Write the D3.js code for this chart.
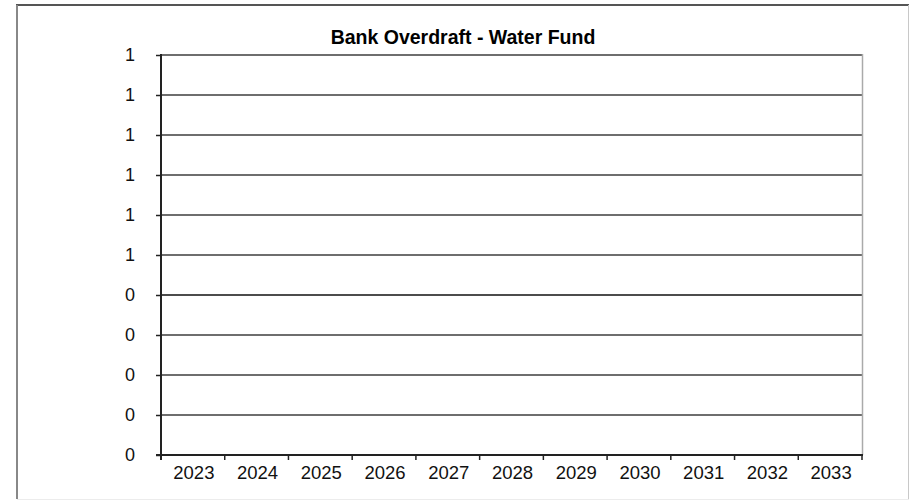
<!DOCTYPE html>
<html>
<head>
<meta charset="utf-8">
<script src="https://cdn.jsdelivr.net/npm/d3@7"></script>
<style>
  html, body { margin: 0; padding: 0; background: #fff; }
  svg { display: block; }
  text { font-family: "Liberation Sans", Arial, sans-serif; }
</style>
</head>
<body>
<svg id="chart" width="910" height="501"></svg>
<script>
// Fiscal years shown on the category axis
const years = ["2023", "2024", "2025", "2026", "2027", "2028", "2029", "2030", "2031", "2032", "2033"];
// Overdraft balance per year (no overdraft drawn in any year)
const overdraft = [0, 0, 0, 0, 0, 0, 0, 0, 0, 0, 0];
// Value axis ticks
const yTicks = [0, 0.1, 0.2, 0.3, 0.4, 0.5, 0.6, 0.7, 0.8, 0.9, 1.0];
const title = "Bank Overdraft - Water Fund";

const svg = d3.select("#chart");
const plot = { left: 161, top: 55, right: 862, bottom: 455 };

// Chart-area frame
svg.append("line").attr("x1", 16).attr("y1", 5).attr("x2", 909).attr("y2", 5)
  .attr("stroke", "#555").attr("stroke-width", 2);
svg.append("line").attr("x1", 17).attr("y1", 5).attr("x2", 17).attr("y2", 499)
  .attr("stroke", "#888").attr("stroke-width", 2);
svg.append("line").attr("x1", 908.5).attr("y1", 5).attr("x2", 908.5).attr("y2", 499)
  .attr("stroke", "#c8c8c8").attr("stroke-width", 1);
svg.append("line").attr("x1", 17).attr("y1", 499.5).attr("x2", 909).attr("y2", 499.5)
  .attr("stroke", "#ececec").attr("stroke-width", 1);

const x = d3.scaleBand().domain(years).range([plot.left, plot.right])
  .paddingInner(0.3).paddingOuter(0.15);
const xEdge = d3.scaleLinear().domain([0, years.length]).range([plot.left, plot.right]);
const y = d3.scaleLinear().domain([0, 1]).range([plot.bottom, plot.top]);

// Horizontal gridlines
svg.append("g").selectAll("line").data(yTicks.filter(d => d > 0)).join("line")
  .attr("x1", plot.left).attr("x2", plot.right)
  .attr("y1", d => y(d)).attr("y2", d => y(d))
  .attr("stroke", d => Math.abs(d - 0.4) < 1e-9 ? "#111" : "#6e6e6e")
  .attr("stroke-width", d => Math.abs(d - 0.4) < 1e-9 ? 1.4 : 1.8);

// Right edge of plot area
svg.append("line").attr("x1", plot.right + 0.5).attr("x2", plot.right + 0.5)
  .attr("y1", plot.top - 1).attr("y2", plot.bottom)
  .attr("stroke", "#aaa").attr("stroke-width", 1.5);

// Bars (zero height)
svg.append("g").selectAll("rect").data(overdraft).join("rect")
  .attr("x", (d, i) => x(years[i]))
  .attr("width", x.bandwidth())
  .attr("y", d => y(Math.max(d, 0)))
  .attr("height", d => Math.abs(y(0) - y(d)))
  .attr("fill", "#333399");

// Value axis
const yAxis = d3.axisLeft(y).tickValues(yTicks).tickSize(5).tickPadding(21)
  .tickFormat(d => d3.format(".0f")(d + 1e-9));
const gy = svg.append("g").attr("transform", `translate(${plot.left},0)`).call(yAxis);
gy.select(".domain").attr("stroke", "#222").attr("stroke-width", 2)
  .attr("d", `M0,${plot.top - 1}V${plot.bottom + 5}`);
gy.selectAll(".tick line").attr("stroke", "#222").attr("stroke-width", 1.5);
gy.selectAll(".tick text").attr("font-size", 18).attr("fill", "#111")
  .attr("dy", "0.3em")
  .attr("font-family", "Liberation Sans, Arial, sans-serif");

// Category axis
svg.append("line").attr("x1", plot.left - 5).attr("x2", plot.right + 1)
  .attr("y1", plot.bottom).attr("y2", plot.bottom)
  .attr("stroke", "#222").attr("stroke-width", 2);
svg.append("g").selectAll("line").data(d3.range(years.length + 1)).join("line")
  .attr("x1", d => xEdge(d)).attr("x2", d => xEdge(d))
  .attr("y1", plot.bottom).attr("y2", plot.bottom + 5)
  .attr("stroke", "#222").attr("stroke-width", 1.5);
svg.append("g").selectAll("text").data(years).join("text")
  .attr("x", d => x(d) + x.bandwidth() / 2 + 1)
  .attr("y", 479)
  .attr("text-anchor", "middle")
  .attr("font-size", 18.5)
  .attr("fill", "#111")
  .text(d => d);

// Title
svg.append("text").attr("x", 463).attr("y", 44)
  .attr("text-anchor", "middle")
  .attr("font-size", 19.5).attr("font-weight", "bold")
  .attr("fill", "#000")
  .text(title);
</script>
</body>
</html>
